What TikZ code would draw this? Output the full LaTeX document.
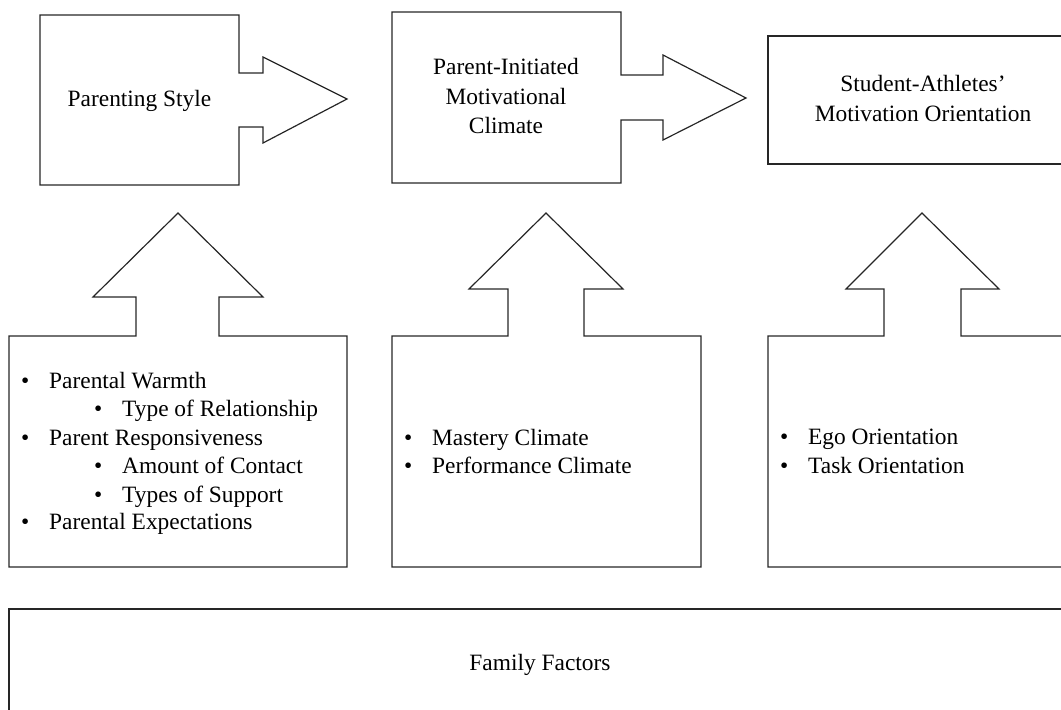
\documentclass[tikz,border=0pt]{standalone}
\usepackage{fontspec}
\setmainfont{Liberation Serif}
\begin{document}
\begin{tikzpicture}[x=1pt,y=-1pt,
  shapeline/.style={draw=black!85, line width=1.2pt, line join=miter},
  txt/.style={inner sep=0pt, font=\fontsize{23.4}{28.5}\selectfont, align=center},
  itm/.style={inner sep=0pt, anchor=base west, font=\fontsize{23.4}{28.5}\selectfont}]
\useasboundingbox (0,0) rectangle (1061,710);
\clip (0,0) rectangle (1061,710);
\newcommand{\bl}{\llap{\textbullet\hspace{20pt}}}
% top row
\draw[shapeline] (40,15) -- (239,15) -- (239,73) -- (263,73) -- (263,57) -- (347,99)
  -- (263,143) -- (263,127) -- (239,127) -- (239,185) -- (40,185) -- cycle;
\draw[shapeline] (392,12) -- (621,12) -- (621,75) -- (663,75) -- (663,55) -- (746,98)
  -- (663,140) -- (663,120) -- (621,120) -- (621,183) -- (392,183) -- cycle;
\draw[shapeline] (768,36) rectangle (1080,164);
\node[txt, anchor=base] (ps) at (139.5,106) {Parenting Style};
\node[txt, anchor=base] (pim1) at (506,74) {Parent-Initiated};
\node[txt, anchor=base] (pim2) at (506,104) {Motivational};
\node[txt, anchor=base] (pim3) at (506,133) {Climate};
\node[txt, anchor=base] (sa1) at (923,91) {Student-Athletes'};
\node[txt, anchor=base] (sa2) at (923,121) {Motivation Orientation};
% bottom row with up arrows
\draw[shapeline] (9,336) -- (136,336) -- (136,297) -- (93,297) -- (178,213) -- (263,297)
  -- (219,297) -- (219,336) -- (347,336) -- (347,567) -- (9,567) -- cycle;
\draw[shapeline] (392,336) -- (508,336) -- (508,289) -- (469,289) -- (546,213) -- (623,289)
  -- (584,289) -- (584,336) -- (701,336) -- (701,567) -- (392,567) -- cycle;
\draw[shapeline] (768,336) -- (884,336) -- (884,289) -- (846,289) -- (922,213) -- (999,289)
  -- (961,289) -- (961,336) -- (1080,336) -- (1080,567) -- (768,567) -- cycle;
\node[itm] (l1) at (49,388) {\bl Parental Warmth};
\node[itm] (l2) at (122,416) {\bl Type of Relationship};
\node[itm] (l3) at (49,445) {\bl Parent Responsiveness};
\node[itm] (l4) at (122,473) {\bl Amount of Contact};
\node[itm] (l5) at (122,502) {\bl Types of Support};
\node[itm] (l6) at (49,529) {\bl Parental Expectations};
\node[itm] (m1) at (432,445) {\bl Mastery Climate};
\node[itm] (m2) at (432,473) {\bl Performance Climate};
\node[itm] (r1) at (808,444) {\bl Ego Orientation};
\node[itm] (r2) at (808,473) {\bl Task Orientation};
% family factors
\draw[shapeline] (9,609) rectangle (1080,730);
\node[txt, anchor=base] (ff) at (540,670) {Family Factors};
\end{tikzpicture}
\end{document}
